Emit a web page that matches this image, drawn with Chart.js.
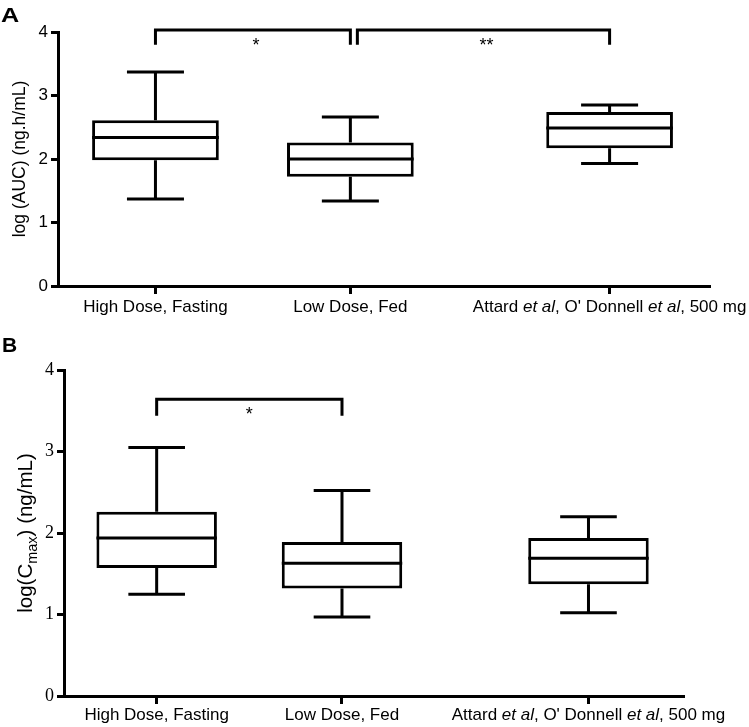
<!DOCTYPE html>
<html><head><meta charset="utf-8">
<script src="https://cdn.jsdelivr.net/npm/chart.js@4.4.1/dist/chart.umd.min.js"></script>
<style>
html,body{margin:0;padding:0;background:#fff;}
#page{position:relative;width:749px;height:727px;overflow:hidden;background:#fff;}
.panel{position:absolute;left:0;width:749px;}
#panelA{top:0;height:320px;}
#panelB{top:320px;height:407px;}
.tag{position:absolute;font-family:"Liberation Sans",Arial,sans-serif;font-weight:bold;font-size:21px;line-height:1;color:#000;}
#tagA{left:1px;top:4px;transform:scaleX(1.2);transform-origin:left top;}
#tagB{left:2px;top:334px;}
</style></head><body>
<div id="page">
<div class="panel" id="panelA"><canvas id="chartA"></canvas></div>
<div class="panel" id="panelB"><canvas id="chartB"></canvas></div>
<div class="tag" id="tagA">A</div>
<div class="tag" id="tagB">B</div>
</div>
<script>
// ---- data ----
const categories = ['High Dose, Fasting', 'Low Dose, Fed', "Attard et al, O' Donnell et al, 500 mg"];
const yTickValues = [0, 1, 2, 3, 4];

const aucMin    = [1.37, 1.34, 1.93];
const aucQ1     = [1.98, 1.72, 2.17];
const aucMedian = [2.34, 2.00, 2.49];
const aucQ3     = [2.61, 2.26, 2.74];
const aucMax    = [3.37, 2.66, 2.85];

const cmaxMin    = [1.25, 0.97, 1.02];
const cmaxQ1     = [1.57, 1.32, 1.37];
const cmaxMedian = [1.94, 1.63, 1.69];
const cmaxQ3     = [2.26, 1.89, 1.94];
const cmaxMax    = [3.05, 2.52, 2.20];

const aucSignificance  = [{from: 0, to: 1, label: '*'}, {from: 1, to: 2, label: '**'}];
const cmaxSignificance = [{from: 0, to: 1, label: '*'}];

// ---- layout (not data) ----
const slotPositions = [0, 1, 2.33];
const SANS = '"Liberation Sans", Arial, Helvetica, sans-serif';
const SERIF = '"Liberation Serif", "Times New Roman", serif';

function drawRuns(ctx, runs, cx, baseline) {
  let total = 0;
  runs.forEach(r => { ctx.font = r.font; r.w = ctx.measureText(r.text).width; total += r.w; });
  let x = cx - total / 2;
  ctx.textAlign = 'left';
  ctx.textBaseline = 'alphabetic';
  runs.forEach(r => { ctx.font = r.font; ctx.fillText(r.text, x, baseline + (r.dy || 0)); x += r.w; });
}
function labelRuns(label, size) {
  return label.split(/(et al)/).filter(s => s.length).map(s => ({
    text: s, font: (s === 'et al' ? 'italic ' : '') + size + 'px ' + SANS
  }));
}

function makePlugin(stats, sig, cfg) {
  return {
    id: 'boxExtras',
    afterDatasetsDraw(chart) {
      const ctx = chart.ctx, ys = chart.scales.y;
      const meta = chart.getDatasetMeta(0);
      ctx.save();
      ctx.strokeStyle = '#000';
      ctx.lineWidth = 3;
      ctx.lineCap = 'butt';
      meta.data.forEach((el, i) => {
        const p = el.getProps(['x', 'width'], true);
        const half = p.width / 2, cap = p.width * cfg.capRatio / 2;
        const yMin = ys.getPixelForValue(stats.min[i]);
        const yQ1 = ys.getPixelForValue(stats.q1[i]);
        const yMed = ys.getPixelForValue(stats.median[i]);
        const yQ3 = ys.getPixelForValue(stats.q3[i]);
        const yMax = ys.getPixelForValue(stats.max[i]);
        ctx.beginPath();
        ctx.moveTo(p.x - half, yMed); ctx.lineTo(p.x + half, yMed);
        ctx.moveTo(p.x, yQ3); ctx.lineTo(p.x, yMax);
        ctx.moveTo(p.x - cap, yMax); ctx.lineTo(p.x + cap, yMax);
        ctx.moveTo(p.x, yQ1); ctx.lineTo(p.x, yMin);
        ctx.moveTo(p.x - cap, yMin); ctx.lineTo(p.x + cap, yMin);
        ctx.stroke();
      });
      ctx.restore();
    },
    afterDraw(chart) {
      const ctx = chart.ctx, xs = chart.scales.x, ys = chart.scales.y, area = chart.chartArea;
      ctx.save();
      ctx.fillStyle = '#000';
      ctx.strokeStyle = '#000';
      // category labels
      categories.forEach((c, i) => {
        drawRuns(ctx, labelRuns(c, cfg.labelSize), xs.getPixelForValue(slotPositions[i]), area.bottom + cfg.labelGap);
      });
      // significance brackets
      ctx.lineWidth = 3;
      ctx.lineJoin = 'miter';
      const usedEnds = [];
      sig.forEach(b => {
        let x1 = xs.getPixelForValue(slotPositions[b.from]);
        const x2 = xs.getPixelForValue(slotPositions[b.to]);
        if (usedEnds.includes(b.from)) x1 += 7;
        usedEnds.push(b.to);
        const yTop = ys.getPixelForValue(cfg.bracketLevel);
        const yLeg = ys.getPixelForValue(cfg.bracketLevel - cfg.bracketDrop);
        ctx.beginPath();
        ctx.moveTo(x1, yLeg); ctx.lineTo(x1, yTop); ctx.lineTo(x2, yTop); ctx.lineTo(x2, yLeg);
        ctx.stroke();
        ctx.font = '18px ' + SANS;
        ctx.textAlign = 'center';
        ctx.textBaseline = 'alphabetic';
        ctx.fillText(b.label, (x1 + x2) / 2 + cfg.starShift, yTop + 21);
      });
      // y-axis title
      ctx.translate(cfg.titleX, (area.top + area.bottom) / 2 + cfg.titleShift);
      ctx.rotate(-Math.PI / 2);
      drawRuns(ctx, cfg.titleRuns, 0, 0);
      ctx.restore();
    }
  };
}

function makeChart(id, stats, sig, cfg) {
  return new Chart(document.getElementById(id), {
    type: 'bar',
    data: {
      datasets: [{
        data: stats.q1.map((v, i) => ({x: slotPositions[i], y: [v, stats.q3[i]]})),
        backgroundColor: '#fff',
        borderColor: '#000',
        borderWidth: 3,
        borderSkipped: false,
        categoryPercentage: 1,
        barPercentage: 0.65
      }]
    },
    options: {
      responsive: true,
      maintainAspectRatio: false,
      devicePixelRatio: 1,
      animation: false,
      layout: {padding: {top: cfg.padTop, right: cfg.padRight, left: 0, bottom: 0}},
      plugins: {legend: {display: false}, tooltip: {enabled: false}, title: {display: false}},
      scales: {
        x: {
          type: 'linear', min: -0.5, max: 2.84, offset: false,
          afterBuildTicks: s => { s.ticks = slotPositions.map(v => ({value: v})); },
          afterFit: s => { s.height = cfg.xHeight; },
          ticks: {callback: () => '', autoSkip: false, maxRotation: 0, padding: 0},
          grid: {offset: false, drawOnChartArea: false, drawTicks: true, tickLength: 8, lineWidth: 3, color: '#000'},
          border: {display: true, color: '#000', width: 3}
        },
        y: {
          type: 'linear', min: 0, max: 4,
          afterBuildTicks: s => { s.ticks = yTickValues.map(v => ({value: v})); },
          afterFit: s => { s.width = cfg.yWidth; },
          ticks: {color: '#000', padding: 3, font: cfg.tickFont},
          grid: {drawOnChartArea: false, drawTicks: true, tickLength: 7, lineWidth: 3, color: '#000'},
          border: {display: true, color: '#000', width: 3}
        }
      }
    },
    plugins: [makePlugin(stats, sig, cfg)]
  });
}

makeChart('chartA',
  {min: aucMin, q1: aucQ1, median: aucMedian, q3: aucQ3, max: aucMax},
  aucSignificance,
  {padTop: 32, padRight: 40, xHeight: 34, yWidth: 58, capRatio: 0.45, labelSize: 17, labelGap: 26,
   tickFont: {family: SANS, size: 17}, bracketLevel: 4.03, bracketDrop: 0.23, starShift: 3,
   titleX: 25, titleShift: 0,
   titleRuns: [{text: 'log (AUC) (ng.h/mL)', font: '17.5px ' + SANS}]});

makeChart('chartB',
  {min: cmaxMin, q1: cmaxQ1, median: cmaxMedian, q3: cmaxQ3, max: cmaxMax},
  cmaxSignificance,
  {padTop: 50, padRight: 66, xHeight: 31, yWidth: 64, capRatio: 0.47, labelSize: 17, labelGap: 24,
   tickFont: {family: SERIF, size: 18}, bracketLevel: 3.64, bracketDrop: 0.20, starShift: 0,
   titleX: 32, titleShift: 0,
   titleRuns: [
     {text: 'log(C', font: '20.5px ' + SANS},
     {text: 'max', font: '14.5px ' + SANS, dy: 4.5},
     {text: ') (ng/mL)', font: '20.5px ' + SANS}
   ]});
</script>
</body></html>
